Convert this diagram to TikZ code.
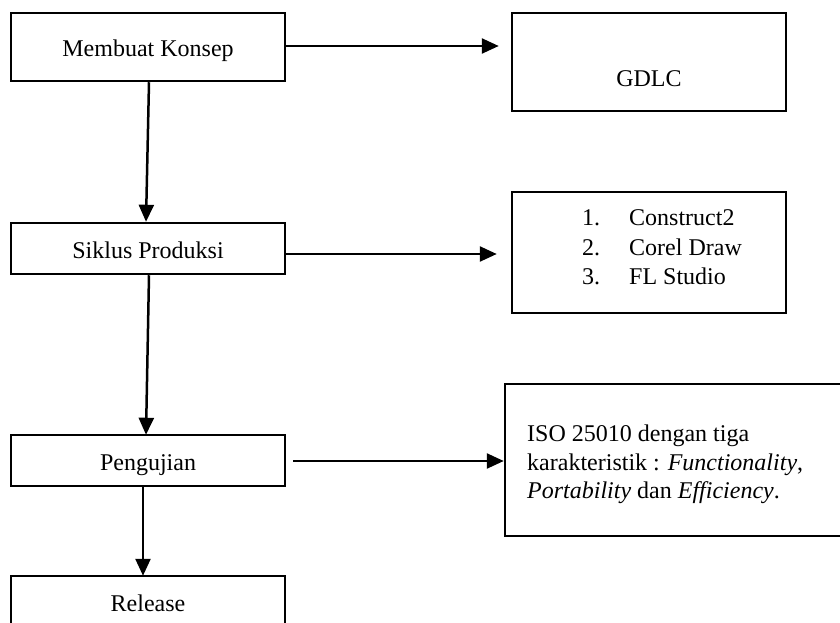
\documentclass[tikz,border=0pt]{standalone}
\usepackage{fontspec}
\setmainfont{Liberation Serif}
\usetikzlibrary{arrows.meta,calc}
\begin{document}
\begin{tikzpicture}[x=1pt,y=-1pt,
  box/.style={draw, line width=2.5pt, rectangle, inner sep=0pt, minimum width=274pt,
    text height=19pt, text depth=0pt, font=\fontsize{24}{30}\selectfont},
  frame/.style={draw, line width=2.5pt, rectangle, inner sep=0pt},
  txt/.style={inner sep=0pt, anchor=base west, font=\fontsize{24}{30}\selectfont},
  conn/.style={line width=2.5pt, -{Triangle[length=17pt,width=15pt]}}]
\useasboundingbox (0,0) rectangle (840,623);
% left column
\node[box, minimum height=68pt] (konsep) at (148,47) {Membuat Konsep};
\node[box, minimum height=51pt] (siklus) at (148,248.5) {Siklus Produksi};
\node[box, minimum height=51pt] (uji) at (148,460.5) {Pengujian};
\node[box, minimum height=51pt] (release) at (148,601.5) {Release};
% right column
\node[frame, minimum width=274pt, minimum height=98pt] (gdlc) at (649,62) {};
\node[txt, anchor=base] (gdlctxt) at (649,87) {GDLC};
\node[frame, minimum width=274pt, minimum height=121pt] (tools) at (649,252.5) {};
\node[txt] (t1) at (582,225.7) {\makebox[47pt][l]{1.}Construct2};
\node[txt] (t2) at (582,255) {\makebox[47pt][l]{2.}Corel Draw};
\node[txt] (t3) at (582,284.3) {\makebox[47pt][l]{3.}FL Studio};
\node[frame, minimum width=345pt, minimum height=152pt] (iso) at (677.5,460) {};
\node[txt] (i1) at (527,441.7) {ISO 25010 dengan tiga};
\node[txt] (i2) at (527,470) {karakteristik : \textit{Functionality},};
\node[txt] (i3) at (527,498.3) {\textit{Portability} dan \textit{Efficiency}.};
% connectors
\draw[conn] ($(konsep.south)+(1,0)$) -- ($(siklus.north)+(-2,0)$);
\draw[conn] ($(siklus.south)+(1,0)$) -- ($(uji.north)+(-2,1)$);
\draw[conn] ($(uji.south)+(-5,0)$) -- ($(release.north)+(-5,1)$);
\draw[conn] (konsep.east |- 0,46) -- ($(gdlc.west |- 0,46)+(-12,0)$);
\draw[conn] (siklus.east |- 0,254) -- ($(tools.west |- 0,254)+(-14,0)$);
\draw[conn] ($(uji.east |- 0,461)+(7,0)$) -- (iso.west |- 0,461);
\end{tikzpicture}
\end{document}
